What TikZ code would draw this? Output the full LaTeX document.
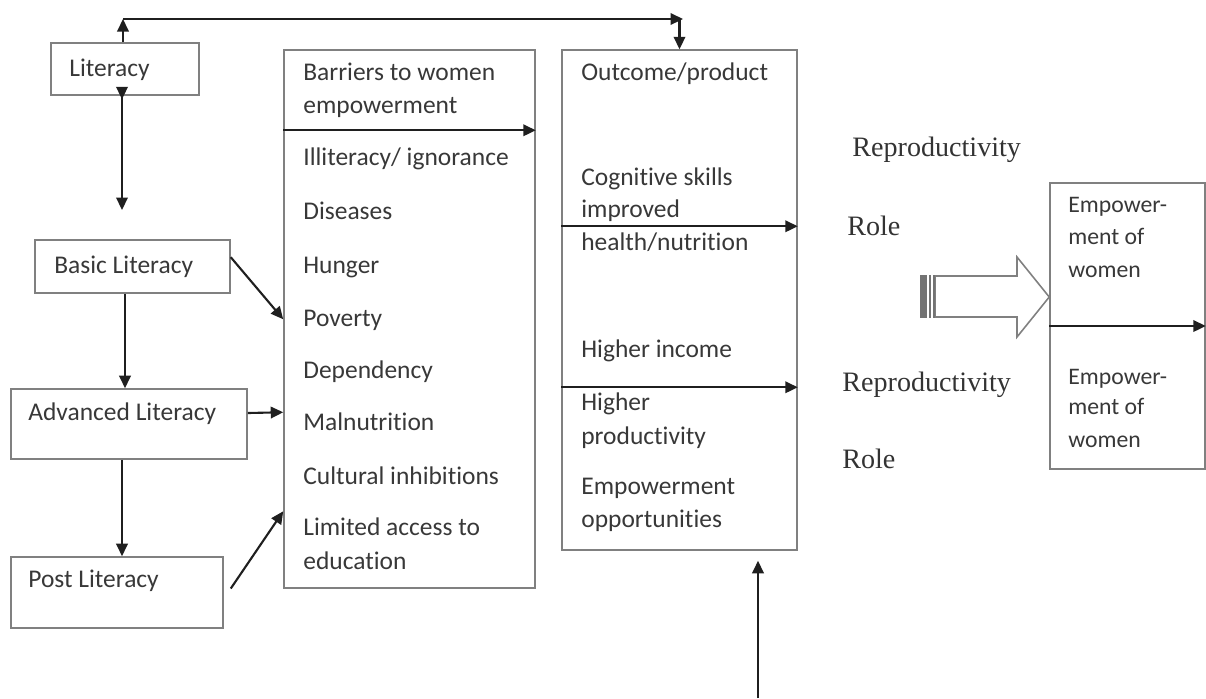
\documentclass[tikz,border=0pt]{standalone}
\usepackage{fontspec}
\setmainfont{Liberation Serif}
\newfontfamily\carlito[Ligatures=NoCommon]{Carlito}
\usetikzlibrary{arrows.meta,calc}
\tikzset{
  box/.style={
    draw=black!50,
    line width=0.9pt,
    inner sep=0
  },
  txt/.style={
    anchor=west,
    inner sep=0,
    text height=1.9ex,
    text depth=0pt,
    text=black!78,
    font=\carlito\fontsize{14.5}{17}\selectfont
  },
  smalltxt/.style={
    txt,
    font=\carlito\fontsize{13.5}{16}\selectfont
  },
  lbl/.style={
    anchor=west,
    inner sep=0,
    text height=2ex,
    text depth=0pt,
    text=black!80,
    font=\fontsize{16}{19}\selectfont
  },
  arr/.style={
    -{Triangle[length=2.5mm,width=2.3mm]},
    line width=1.2pt,
    black!88
  },
  arrboth/.style={
    {Triangle[reversed,length=2.5mm,width=2.3mm]}-{Triangle[length=2.5mm,width=2.3mm]},
    line width=1.2pt,
    black!88
  }
}

\begin{document}
\begin{tikzpicture}[x=0.02cm,y=-0.02cm]
  \useasboundingbox (0,0) rectangle (1206,698);
  \node[box,minimum width=2.96cm,minimum height=1.04cm] (lit) at (125,69) {};
  \node[box,minimum width=3.9cm,minimum height=1.06cm] (basic) at (132.5,266.5) {};
  \node[box,minimum width=4.72cm,minimum height=1.4cm] (adv) at (129,424) {};
  \node[box,minimum width=4.24cm,minimum height=1.42cm] (post) at (117,592.5) {};
  \node[box,minimum width=5.02cm,minimum height=10.76cm] (barr) at (409.5,319) {};
  \node[box,minimum width=4.7cm,minimum height=10cm] (out) at (679.5,300) {};
  \node[box,minimum width=3.1cm,minimum height=5.72cm] (emp) at (1127.5,326) {};
  \node[txt] (litt) at (69,69) {Literacy};
  \node[txt] (basict) at (54,266) {Basic Literacy};
  \node[txt] (advt) at (28,413) {Advanced Literacy};
  \node[txt] (postt) at (28,580) {Post Literacy};
  \foreach \t/\y [count=\i] in {Barriers to women/73,empowerment/106,{Illiteracy/ ignorance}/158,Diseases/212,Hunger/266,Poverty/319,Dependency/371,Malnutrition/423,Cultural inhibitions/477,Limited access to/528,education/562}{
    \node[txt] (b\i) at (303,\y) {\t};
  }
  \foreach \t/\y [count=\i] in {{Outcome/product}/73,Cognitive skills/178,improved/210,{health/nutrition}/243,Higher income/350,Higher/403,productivity/437,Empowerment/487,opportunities/520}{
    \node[txt] (o\i) at (581,\y) {\t};
  }
  \foreach \t/\y [count=\i] in {Empower-/205,ment of/237,women/270,Empower-/377,ment of/407,women/440}{
    \node[smalltxt] (e\i) at (1068,\y) {\t};
  }
  \node[lbl] (rep1) at (852,148) {Reproductivity};
  \node[lbl] (role1) at (847,227) {Role};
  \node[lbl] (rep2) at (842,383) {Reproductivity};
  \node[lbl] (role2) at (842,460) {Role};
  \coordinate (c1) at (122,0);
  \coordinate (c2) at (125,0);
  \coordinate (tl) at (123,19);
  \coordinate (tr) at (683,19);
  \coordinate (ld) at (122,210);
  \coordinate (bt) at (758,698);
  \draw[arr] (lit.north -| tl) -- (tl);
  \draw[arr] (tl) -- (tr);
  \draw[arr] (tr -| out.north) -- (out.north);
  \draw[arrboth] ($(lit.south -| ld)+(0,-9)$) -- (ld);
  \draw[arr] (basic.south -| c2) -- (adv.north -| c2);
  \draw[arr] (adv.south -| c1) -- (post.north -| c1);
  \draw[arr] ($(basic.north east)+(0,18)$) -- ($(barr.north west)+(0,270)$);
  \draw[arr] ($(adv.east)+(0,-11)$) -- ($(barr.north west)+(0,363)$);
  \draw[arr] ($(post.east)+(7,-4)$) -- ($(barr.north west)+(0,462)$);
  \draw[arr] ($(barr.north west)+(0,81)$) -- ($(barr.north east)+(0,81)$);
  \draw[arr] ($(out.north west)+(0,177)$) -- ($(out.north east)+(0,177)$);
  \draw[arr] ($(out.north west)+(0,338)$) -- ($(out.north east)+(0,338)$);
  \draw[arr] (emp.west) -- (emp.east);
  \draw[arr] (bt) -- ($(bt |- out.south)+(0,10)$);
  \draw[draw=black!50,line width=0.9pt] (935,276) -- (1017,276) -- (1017,257) -- (emp.west |- 0,297) -- (1017,337) -- (1017,317) -- (935,317) -- cycle;
  \fill[black!55] (920,275) rectangle (927,318);
  \foreach \x in {930,934}{
    \draw[black!55,line width=0.9pt] (\x,275) -- (\x,318);
  }
\end{tikzpicture}
\end{document}
